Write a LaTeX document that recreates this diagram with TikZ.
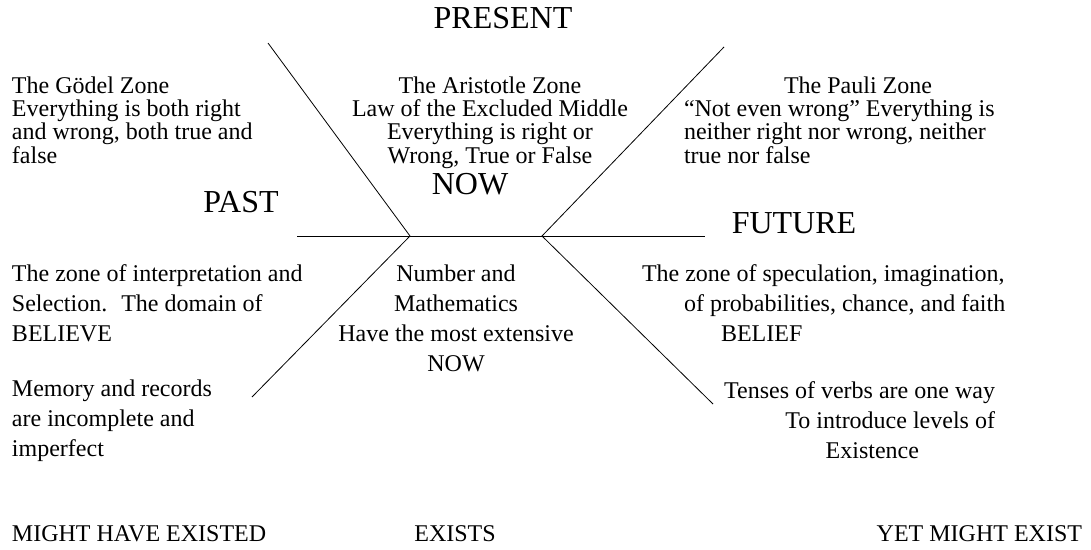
\documentclass[tikz,border=0pt]{standalone}
\usepackage{fontspec}
\setmainfont{Liberation Serif}
\usetikzlibrary{positioning}

\begin{document}
\begin{tikzpicture} [x=1pt,y=-1pt,every node/.style={inner sep=0pt,outer sep=0pt},]

\tikzstyle{zone}=[font=\fontsize{24}{23.3}\selectfont]
\tikzstyle{lower}=[font=\fontsize{24}{30}\selectfont]
\tikzstyle{tense}=[font=\fontsize{32}{32}\selectfont]
\tikzstyle{axis}=[line width=0.8pt]

\useasboundingbox (0,0) rectangle (1091,549);

% the time line and its two crossings
\coordinate (pastNow) at (410,236);
\coordinate (nowFuture) at (542,236);
\coordinate (lineL) at (297,236);
\coordinate (lineR) at (705,236);
\coordinate (topL) at (268,43);
\coordinate (topR) at (724,47);
\coordinate (botL) at (252,397);
\coordinate (botR) at (713,404);

\draw [axis] (lineL) -- (lineR);
\draw [axis] (topL) -- (pastNow) -- (botL);
\draw [axis] (topR) -- (nowFuture) -- (botR);

\node (present) [tense,anchor=base] at (503,28) {PRESENT};
\node (past) [tense,anchor=base] at (241,212) {PAST};
\node (now) [tense,anchor=base] at (470,194) {NOW};
\node (future) [tense,anchor=base] at (794,233) {FUTURE};

% upper zones (base = last line)
\node (goedel) [zone,anchor=base west,align=left] at (12,163) {The Gödel Zone\\Everything is both right\\and wrong, both true and\\false};
\node (aristotle) [zone,anchor=base,align=center] at (490,163) {The Aristotle Zone\\Law of the Excluded Middle\\Everything is right or\\Wrong, True or False};
\node (pauliTitle) [zone,anchor=base] at (858,93) {The Pauli Zone};
\node (pauli) [zone,anchor=base west,align=left] at (684,163) {“Not even wrong” Everything is\\neither right nor wrong, neither\\true nor false};

% lower zones
\node (interp) [lower,anchor=base west,align=left] at (12,341) {The zone of interpretation and\\Selection.~ The domain of\\BELIEVE};
\node (memory) [lower,anchor=base west,align=left] at (12,456) {Memory and records\\are incomplete and\\imperfect};
\node (number) [lower,anchor=base,align=center] at (456,371) {Number and\\Mathematics\\Have the most extensive\\NOW};
\node (spec) [lower,anchor=base west,align=left] at (642,341) {The zone of speculation, imagination,\\\hspace*{42pt}of probabilities, chance, and faith\\\hspace*{79pt}BELIEF};
\node (verbs) [lower,anchor=base east,align=right] at (995,458) {Tenses of verbs are one way\\To introduce levels of\\Existence\hspace*{76pt}};

\node (might) [lower,anchor=base west] at (12,541) {MIGHT HAVE EXISTED};
\node (exists) [lower,anchor=base] at (455,541) {EXISTS};
\node (yet) [lower,anchor=base east] at (1082,541) {YET MIGHT EXIST};

\end{tikzpicture}
\end{document}
